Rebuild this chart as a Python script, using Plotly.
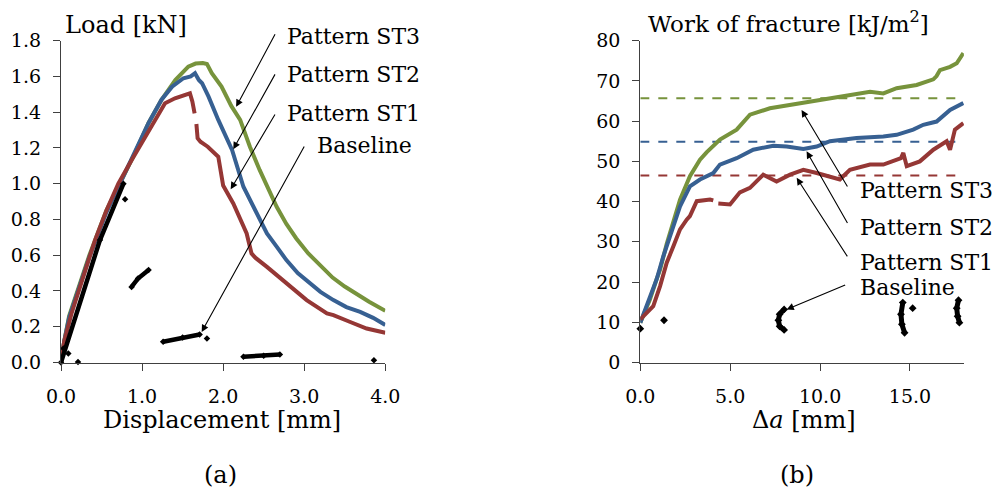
import plotly.graph_objects as go

# ---------------- data: (a) load vs displacement ----------------
disp_st3 = [0, 0.04, 0.10, 0.35, 0.56, 0.77, 0.91, 1.08, 1.24, 1.41, 1.57, 1.66, 1.75, 1.80, 1.86,
            1.98, 2.10, 2.21, 2.33, 2.45, 2.54, 2.66, 2.78, 2.90, 3.05, 3.20, 3.35, 3.50, 3.65, 3.80, 4.0]
load_st3 = [0, 0.12, 0.26, 0.60, 0.85, 1.04, 1.17, 1.34, 1.47, 1.58, 1.655, 1.672, 1.675, 1.67, 1.618,
            1.543, 1.435, 1.357, 1.207, 1.077, 0.983, 0.871, 0.775, 0.695, 0.61, 0.54, 0.475, 0.425, 0.38, 0.34, 0.289]

disp_st2 = [0, 0.04, 0.10, 0.35, 0.56, 0.77, 0.91, 1.08, 1.24, 1.37, 1.51, 1.60, 1.653, 1.70, 1.74,
            1.82, 1.94, 2.02, 2.11, 2.25, 2.41, 2.54, 2.66, 2.78, 2.92, 3.07, 3.20, 3.36, 3.52, 3.69, 3.85, 4.0]
load_st2 = [0, 0.12, 0.25, 0.59, 0.84, 1.04, 1.17, 1.34, 1.47, 1.543, 1.59, 1.60, 1.618, 1.58, 1.562,
            1.487, 1.357, 1.282, 1.189, 0.983, 0.834, 0.722, 0.648, 0.573, 0.50, 0.442, 0.395, 0.349, 0.31, 0.283, 0.25, 0.21]

disp_st1 = [0, 0.04, 0.13, 0.317, 0.42, 0.56, 0.707, 0.872, 1.036, 1.16, 1.283, 1.406, 1.50, 1.56, 1.59,
            1.62, 1.648, None, 1.67, 1.685, 1.72, 1.81, 1.94, 1.96, 2.0, 2.125, 2.21, 2.29, 2.35, 2.40,
            2.54, 2.78, 3.03, 3.28, 3.36, 3.56, 3.77, 4.0]
load_st1 = [0, 0.12, 0.274, 0.535, 0.685, 0.85, 1.0, 1.133, 1.263, 1.357, 1.45, 1.478, 1.49, 1.50, 1.506,
            1.46, 1.394, None, 1.334, 1.254, 1.235, 1.207, 1.151, 1.095, 0.99, 0.89, 0.797, 0.722, 0.61, 0.585,
            0.535, 0.442, 0.349, 0.274, 0.265, 0.228, 0.19, 0.166]

disp_base = [0, 0.48, 0.77, None, 0.79, None, 0.03, None, 0.09, None, 0.21, None, 0.87, 0.95, 1.08,
             None, 1.26, 1.5, 1.71, None, 1.80, None, 2.25, 2.5, 2.70, None, 3.86]
load_base = [0, 0.685, 1.0, None, 0.913, None, 0.078, None, 0.05, None, 0.003, None, 0.423, 0.47, 0.517,
             None, 0.116, 0.14, 0.157, None, 0.134, None, 0.032, 0.038, 0.045, None, 0.013]

# ---------------- data: (b) work of fracture vs crack extension ----------------
da_st3 = [0, 0.54, 0.91, 1.1, 1.47, 1.65, 2.21, 2.76, 3.32, 3.7, 4.43, 5.36, 6.1, 7.21, 8.33, 9.44,
          10.55, 11.66, 12.78, 13.52, 14.26, 15.37, 15.93, 16.3, 16.48, 16.67, 17.23, 17.6, 17.97]
wof_st3 = [9.9, 15.7, 20.7, 23.1, 29.5, 32.2, 40.5, 46.3, 50.4, 52.3, 55.4, 57.9, 61.6, 63.2, 64.0, 64.9,
           65.7, 66.5, 67.3, 66.9, 68.2, 69.0, 69.8, 70.4, 71.2, 72.7, 73.5, 74.4, 76.9]

da_st2 = [0, 0.54, 0.91, 1.28, 1.47, 1.84, 2.21, 2.76, 3.32, 4.06, 4.43, 5.36, 6.28, 7.4, 8.14, 9.07,
          9.81, 10.55, 12.03, 13.52, 14.26, 15.18, 15.74, 16.48, 17.23, 17.97]
wof_st2 = [9.9, 16.1, 20.7, 26.4, 28.9, 33.9, 38.8, 43.8, 45.5, 47.1, 49.2, 50.8, 52.9, 53.9, 53.7, 53.1,
           53.7, 55.0, 55.8, 56.2, 56.6, 57.9, 59.1, 59.9, 62.8, 64.5]

da_st1 = [0, 0.72, 1.1, 1.47, 1.84, 2.21, 2.58, 2.76, 3.14, 3.5, 3.88, 4.06, None, 4.34, 4.99, 5.54, 6.1,
          6.84, 7.58, 8.33, 9.07, 9.81, 10.55, 11.1, 11.66, 12.78, 13.52, 14.26, 14.5, 14.63, 14.82,
          15.55, 16.3, 17.04, 17.23, 17.5, 17.97]
wof_st1 = [10.7, 14.0, 19.0, 24.8, 28.9, 33.1, 35.5, 36.4, 40.1, 40.3, 40.5, 40.3, None, 39.5, 39.3, 42.3, 43.4,
           46.7, 45.0, 46.7, 47.9, 47.1, 46.3, 45.5, 47.9, 49.2, 49.2, 50.4, 50.8, 52.1, 48.8,
           50.0, 52.9, 55.0, 52.9, 57.9, 59.5]

da_base = [0, None, 1.32, None, 8.0, 7.75, 7.68, 7.75, 8.0, None, 14.6, 14.5, 14.55, 14.7, None, 15.15,
           None, 17.7, 17.6, 17.65, 17.75]
wof_base = [8.4, None, 10.5, None, 13.2, 12.0, 10.5, 9.0, 8.1, None, 14.9, 12.0, 9.5, 7.4, None, 13.5,
            None, 15.5, 13.5, 11.5, 9.9]

mean_range = [0, 17.9]
wof_mean = {"ST3": 65.7, "ST2": 54.9, "ST1": 46.5}

series_names = ["Pattern ST3", "Pattern ST2", "Pattern ST1", "Baseline"]
xticks_a = [0, 1, 2, 3, 4]
yticks_a = [0, 0.2, 0.4, 0.6, 0.8, 1.0, 1.2, 1.4, 1.6, 1.8]
xticks_b = [0, 5, 10, 15]
yticks_b = [0, 10, 20, 30, 40, 50, 60, 70, 80]

# ---------------- styling ----------------
C3, C2, C1, CB = "#77933C", "#376092", "#953735", "#000000"
FONT = "DejaVu Serif"
W, H = 995, 491

fig = go.Figure()

def line(x, y, color, xa, ya, width=4):
    fig.add_trace(go.Scatter(x=x, y=y, mode="lines", line=dict(color=color, width=width),
                             xaxis=xa, yaxis=ya, showlegend=False, connectgaps=False, hoverinfo="skip"))

# (a)
line(disp_st3, load_st3, C3, "x", "y")
line(disp_st2, load_st2, C2, "x", "y")
line(disp_st1, load_st1, C1, "x", "y")
fig.add_trace(go.Scatter(x=disp_base, y=load_base, mode="lines+markers", xaxis="x", yaxis="y",
                         line=dict(color=CB, width=4.5), marker=dict(color=CB, size=5, symbol="diamond"),
                         showlegend=False, connectgaps=False, cliponaxis=False, hoverinfo="skip"))

# (b)
for key, col in (("ST3", C3), ("ST2", C2), ("ST1", C1)):
    fig.add_trace(go.Scatter(x=mean_range, y=[wof_mean[key]] * 2, mode="lines", xaxis="x2", yaxis="y2",
                             line=dict(color=col, width=2, dash="dash"), showlegend=False, hoverinfo="skip"))
line(da_st3, wof_st3, C3, "x2", "y2")
line(da_st2, wof_st2, C2, "x2", "y2")
line(da_st1, wof_st1, C1, "x2", "y2")
fig.add_trace(go.Scatter(x=da_base, y=wof_base, mode="lines+markers", xaxis="x2", yaxis="y2",
                         line=dict(color=CB, width=5), marker=dict(color=CB, size=6, symbol="diamond"),
                         showlegend=False, connectgaps=False, cliponaxis=False, hoverinfo="skip"))

ax_common = dict(showline=True, linecolor="#404040", linewidth=1.3, ticks="outside", ticklen=7,
                 tickwidth=1.3, tickcolor="#404040", showgrid=False, zeroline=False, automargin=False,
                 tickfont=dict(family=FONT, size=19, color="black"), ticklabelstandoff=8,
                 fixedrange=True)

# plot-area pixel boxes
A_L, A_R = 61.0, 385.3
B_L, B_R = 640.3, 963.9
P_T, P_B = 40.7, 362.5
yb, yt = (H - P_B) / H, (H - P_T) / H
fig.update_layout(
    template="none",
    width=W, height=H, autosize=False, margin=dict(l=0, r=0, t=0, b=0, pad=0),
    paper_bgcolor="white", plot_bgcolor="white",
    font=dict(family=FONT, color="black"),
    xaxis=dict(ax_common, domain=[A_L / W, A_R / W], range=[0, 4], tickvals=xticks_a, tickformat=".1f",
               anchor="y", ticklabelstandoff=10),
    yaxis=dict(ax_common, domain=[yb, yt], range=[0, 1.8], tickvals=yticks_a, tickformat=".1f",
               anchor="x"),
    xaxis2=dict(ax_common, domain=[B_L / W, B_R / W], range=[0, 18], tickvals=xticks_b,
                tickformat=".1f", anchor="y2", ticklabelstandoff=10),
    yaxis2=dict(ax_common, domain=[yb, yt], range=[0, 80], tickvals=yticks_b, tickformat="d",
                anchor="x2"),
)

ann = []
TF = dict(family=FONT, size=22, color="black")
TT = dict(family=FONT, size=24, color="black")

def ptext(t, px, py, xanchor="center", font=TT):
    ann.append(dict(text=t, x=px / W, y=(H - py) / H, xref="paper", yref="paper", xanchor=xanchor,
                    yanchor="middle", showarrow=False, font=font))

# series labels (pixel positions)
for name, px, py in zip(series_names, [285, 285, 285, 315], [37, 75, 113, 146]):
    ptext(name, px, py, "left", TF)
for name, px, py in zip(series_names, [858] * 4, [190, 227, 262, 287]):
    ptext(name, px, py, "left", TF)

# arrows (a) in data coordinates
for hx, hy, tx, ty in [(2.16, 1.43, 2.65, 1.844), (2.125, 1.193, 2.65, 1.62),
                       (2.093, 0.969, 2.65, 1.396), (1.735, 0.171, 3.01, 1.217)]:
    ann.append(dict(text="", x=hx, y=hy, ax=tx, ay=ty, xref="x", yref="y", axref="x", ayref="y",
                    showarrow=True, arrowhead=2, arrowsize=1.3, arrowwidth=1.1, arrowcolor="black",
                    standoff=0, startstandoff=0))
# arrows (b)
for hx, hy, tx, ty in [(8.97, 62.8, 11.57, 43.4), (9.25, 52.5, 11.57, 34.3),
                       (8.70, 45.9, 11.57, 26.0), (8.14, 13.2, 11.48, 19.4)]:
    ann.append(dict(text="", x=hx, y=hy, ax=tx, ay=ty, xref="x2", yref="y2", axref="x2", ayref="y2",
                    showarrow=True, arrowhead=2, arrowsize=1.3, arrowwidth=1.1, arrowcolor="black",
                    standoff=0, startstandoff=0))

ptext("Load [kN]", 63, 25, "left")
ptext("Work of fracture [kJ/m<sup>2</sup>]", 646, 22, "left", dict(family=FONT, size=23, color="black"))
ptext("Displacement [mm]", 222, 420)
ptext("Δ<i>a</i> [mm]", 804, 420)
ptext("(a)", 220, 475)
ptext("(b)", 797, 475)

fig.update_layout(annotations=ann)
fig.write_html("out.html", config={"displayModeBar": False},
               post_script="document.body.style.margin='0px';document.body.style.overflow='hidden';")
